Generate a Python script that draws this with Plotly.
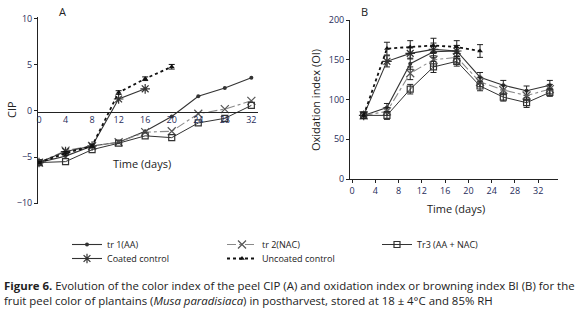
import plotly.graph_objects as go

# ---------------- data ----------------
days_a = [0, 4, 8, 12, 16, 20, 24, 28, 32]
days_a_short = [0, 4, 8, 12, 16]
days_a_unc = [0, 4, 8, 12, 16, 20]
cip_tr1 = [-5.6, -4.9, -3.8, -3.4, -2.2, -0.6, 1.6, 2.5, 3.6]
cip_tr2 = [-5.6, -4.3, -3.8, -3.4, -2.3, -2.2, -0.3, 0.2, 1.1]
cip_tr3 = [-5.6, -5.5, -4.2, -3.5, -2.7, -2.9, -1.3, -0.8, 0.6]
cip_coated = [-5.6, -4.4, -3.8, 1.3, 2.4]
cip_uncoated = [-5.6, -4.6, -3.8, 2.0, 3.5, 4.8]
cip_err_unc = [0.15, 0.2, 0.2, 0.2, 0.2, 0.25]

days_b = [2, 6, 10, 14, 18, 22, 26, 30, 34]
days_b_coated = [2, 6, 10, 14, 18]
days_b_unc = [2, 6, 10, 14, 18, 22]
oi_tr1 = [80, 90, 145, 160, 161, 128, 118, 111, 118]
oi_tr2 = [80, 85, 133, 150, 153, 122, 112, 105, 113]
oi_tr3 = [80, 80, 113, 141, 148, 117, 103, 96, 109]
oi_coated = [80, 148, 158, 163, 161]
oi_uncoated = [80, 164, 166, 168, 166, 161]
err_tr1 = [4, 5, 7, 7, 7, 6, 6, 6, 6]
err_tr2 = [4, 5, 8, 8, 7, 6, 6, 6, 6]
err_tr3 = [4, 5, 6, 7, 6, 6, 5, 6, 5]
err_coated = [4, 7, 7, 8, 7]
err_uncoated = [4, 8, 8, 9, 8, 8]

x_ticks = [0, 4, 8, 12, 16, 20, 24, 28, 32]
ya_ticks = [-10, -5, 0, 5, 10]
yb_ticks = [0, 50, 100, 150, 200]

series_names = ["tr 1(AA)", "tr 2(NAC)", "Tr3 (AA + NAC)", "Coated control", "Uncoated control"]
legend_row = {"tr 1(AA)": "legend", "tr 2(NAC)": "legend", "Tr3 (AA + NAC)": "legend",
              "Coated control": "legend2", "Uncoated control": "legend2"}

# ---------------- styles ----------------
DARK = "#333333"
GREY = "#8a8a8a"
TICKC = "#1f2d5a"
FONT = "Open Sans"

styles = {
    "tr 1(AA)": dict(line=dict(color=DARK, width=1.1, dash="solid"),
                     marker=dict(symbol="circle", size=4, color=DARK)),
    "tr 2(NAC)": dict(line=dict(color=GREY, width=1.1, dash="dashdot"),
                      marker=dict(symbol="x-thin-open", size=8, color="#555555",
                                  line=dict(width=1.2, color="#555555"))),
    "Tr3 (AA + NAC)": dict(line=dict(color=DARK, width=1.0, dash="solid"),
                           marker=dict(symbol="square-open", size=6, color=DARK,
                                       line=dict(width=1.2, color=DARK))),
    "Coated control": dict(line=dict(color=DARK, width=1.1, dash="solid"),
                           marker=dict(symbol="asterisk-open", size=8, color=DARK,
                                       line=dict(width=1.2, color=DARK))),
    "Uncoated control": dict(line=dict(color="#111111", width=1.8, dash="dot"),
                             marker=dict(symbol="triangle-up", size=5, color="#111111")),
}

fig = go.Figure()

# Panel A
a_data = [
    ("tr 1(AA)", days_a, cip_tr1, None),
    ("tr 2(NAC)", days_a, cip_tr2, None),
    ("Tr3 (AA + NAC)", days_a, cip_tr3, None),
    ("Coated control", days_a_short, cip_coated, None),
    ("Uncoated control", days_a_unc, cip_uncoated, cip_err_unc),
]
for name, xs, ys, err in a_data:
    st = styles[name]
    fig.add_trace(go.Scatter(
        x=xs, y=ys, mode="lines+markers", name=name, showlegend=False,
        line=st["line"], marker=st["marker"],
        error_y=dict(type="data", array=err, visible=err is not None,
                     color="#111111", thickness=1, width=3),
        xaxis="x", yaxis="y"))

# Panel B
b_data = [
    ("tr 1(AA)", days_b, oi_tr1, err_tr1),
    ("tr 2(NAC)", days_b, oi_tr2, err_tr2),
    ("Tr3 (AA + NAC)", days_b, oi_tr3, err_tr3),
    ("Coated control", days_b_coated, oi_coated, err_coated),
    ("Uncoated control", days_b_unc, oi_uncoated, err_uncoated),
]
for name, xs, ys, err in b_data:
    st = styles[name]
    fig.add_trace(go.Scatter(
        x=xs, y=ys, mode="lines+markers", name=name, showlegend=True,
        legend=legend_row[name],
        line=st["line"], marker=st["marker"],
        error_y=dict(type="data", array=err, visible=True,
                     color="#222222", thickness=1, width=3),
        xaxis="x2", yaxis="y2"))

W, H = 580, 314
def px_x(p): return p / W
def px_y(p): return 1 - p / H

axis_common = dict(showgrid=False, zeroline=False, showline=True, linecolor="#222222",
                   linewidth=1, tickfont=dict(family=FONT, size=9, color=TICKC),
                   ticks="outside", ticklen=3, tickcolor="#222222", automargin=False)

legend_common = dict(orientation="h", xanchor="left", yanchor="top",
                     entrywidth=110, entrywidthmode="pixels", traceorder="normal",
                     font=dict(family=FONT, size=9, color="#222222"),
                     itemwidth=30, bgcolor="rgba(0,0,0,0)")

fig.update_layout(
    width=W, height=H, margin=dict(l=0, r=0, t=0, b=0, autoexpand=False),
    paper_bgcolor="white", plot_bgcolor="white",
    font=dict(family=FONT, color="#222222"),
    xaxis=dict(axis_common, domain=[px_x(38), px_x(258)], range=[-0.15, 33.0],
               anchor="free", position=px_y(111.5), tickvals=x_ticks, ticks="", ticklen=0),
    yaxis=dict(axis_common, domain=[px_y(204), px_y(17)], range=[-10.1, 10.2],
               anchor="x", tickvals=ya_ticks),
    xaxis2=dict(axis_common, domain=[px_x(350), px_x(558)], range=[-0.35, 35.4],
                anchor="y2", tickvals=x_ticks),
    yaxis2=dict(axis_common, domain=[px_y(179), px_y(20)], range=[0, 200],
                anchor="x2", tickvals=yb_ticks),
    legend=dict(legend_common, x=px_x(67), y=px_y(230)),
    legend2=dict(legend_common, x=px_x(67), y=px_y(244)),
)

ann = [
    dict(text="A", x=px_x(62), y=px_y(12), font=dict(size=11)),
    dict(text="B", x=px_x(364), y=px_y(12), font=dict(size=11)),
    dict(text="CIP", x=px_x(12), y=px_y(110), textangle=-90, font=dict(size=11)),
    dict(text="Time (days)", x=px_x(142), y=px_y(163), font=dict(size=11)),
    dict(text="Oxidation index (OI)", x=px_x(316), y=px_y(100), textangle=-90, font=dict(size=11)),
    dict(text="Time (days)", x=px_x(456), y=px_y(208), font=dict(size=11)),
]
for a in ann:
    fig.add_annotation(xref="paper", yref="paper", showarrow=False,
                       xanchor="center", yanchor="middle",
                       font=dict(family=FONT, size=a["font"]["size"], color="#222222"),
                       **{k: v for k, v in a.items() if k != "font"})

caption1 = "<b>Figure 6.</b> Evolution of the color index of the peel CIP (A) and oxidation index or browning index BI (B) for the"
caption2 = "fruit peel color of plantains (<i>Musa paradisiaca</i>) in postharvest, stored at 18 ± 4°C and 85% RH"
fig.add_annotation(xref="paper", yref="paper", x=px_x(2), y=px_y(285), text=caption1,
                   showarrow=False, xanchor="left", yanchor="middle",
                   font=dict(family=FONT, size=11.4, color="#222222"))
fig.add_annotation(xref="paper", yref="paper", x=px_x(2), y=px_y(300), text=caption2,
                   showarrow=False, xanchor="left", yanchor="middle",
                   font=dict(family=FONT, size=11.4, color="#222222"))

fig.write_html("out.html", config={"displayModeBar": False},
               post_script="document.body.style.margin='0px';")
